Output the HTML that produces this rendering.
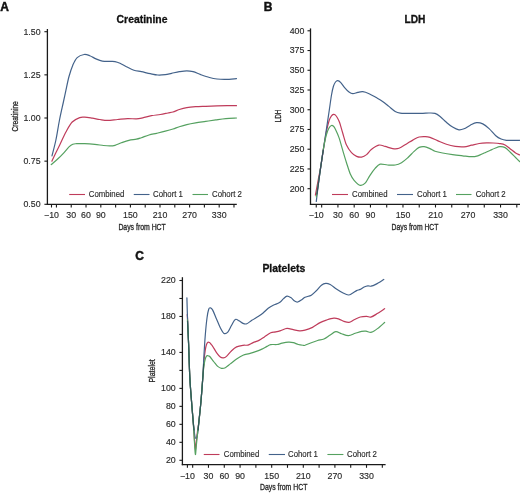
<!DOCTYPE html>
<html><head><meta charset="utf-8"><style>
html,body{margin:0;padding:0;background:#fff;}
body{width:520px;height:493px;overflow:hidden;}
svg{display:block;will-change:transform;}
text{font-family:"Liberation Sans", sans-serif;}
</style></head><body>
<svg width="520" height="493" viewBox="0 0 520 493">
<rect width="520" height="493" fill="#fff"/>
<path d="M51.90 161.20 C52.50 159.92 54.22 156.15 55.50 153.50 C56.78 150.85 57.87 148.88 59.60 145.30 C61.33 141.72 63.80 135.88 65.90 132.00 C68.00 128.12 69.90 124.40 72.20 122.00 C74.50 119.60 77.62 118.40 79.70 117.60 C81.78 116.80 82.60 117.10 84.70 117.20 C86.80 117.30 89.78 117.82 92.30 118.20 C94.82 118.58 97.28 119.13 99.80 119.50 C102.32 119.87 104.45 120.40 107.40 120.40 C110.35 120.40 114.13 119.80 117.50 119.50 C120.87 119.20 124.45 118.70 127.60 118.60 C130.75 118.50 133.88 119.02 136.40 118.90 C138.92 118.78 140.18 118.43 142.70 117.90 C145.22 117.37 148.57 116.27 151.50 115.70 C154.43 115.13 157.57 114.95 160.30 114.50 C163.03 114.05 165.78 113.42 167.90 113.00 C170.02 112.58 171.10 112.58 173.00 112.00 C174.90 111.42 177.00 110.23 179.30 109.50 C181.60 108.77 184.08 108.07 186.80 107.60 C189.52 107.13 192.45 106.92 195.60 106.70 C198.75 106.48 202.13 106.43 205.70 106.30 C209.27 106.17 213.43 106.00 217.00 105.90 C220.57 105.80 223.85 105.73 227.10 105.70 C230.35 105.67 234.93 105.70 236.50 105.70" fill="none" stroke="#bf3c5b" stroke-width="1.20" stroke-linejoin="round" stroke-linecap="round"/>
<path d="M52.00 155.80 C52.65 153.17 54.65 145.97 55.90 140.00 C57.15 134.03 58.25 126.33 59.50 120.00 C60.75 113.67 62.33 106.95 63.40 102.00 C64.47 97.05 64.97 94.55 65.90 90.30 C66.83 86.05 67.85 80.68 69.00 76.50 C70.15 72.32 71.43 68.35 72.80 65.20 C74.17 62.05 75.32 59.38 77.20 57.60 C79.08 55.82 82.00 54.82 84.10 54.50 C86.20 54.18 87.82 54.97 89.80 55.70 C91.78 56.43 93.92 58.00 96.00 58.90 C98.08 59.80 99.97 60.68 102.30 61.10 C104.63 61.52 107.88 61.32 110.00 61.40 C112.12 61.48 113.33 61.28 115.00 61.60 C116.67 61.92 118.10 62.45 120.00 63.30 C121.90 64.15 124.08 65.55 126.40 66.70 C128.72 67.85 131.40 69.37 133.90 70.20 C136.40 71.03 138.67 71.12 141.40 71.70 C144.13 72.28 147.57 73.15 150.30 73.70 C153.03 74.25 155.30 74.85 157.80 75.00 C160.30 75.15 163.00 74.88 165.30 74.60 C167.60 74.32 169.27 73.78 171.60 73.30 C173.93 72.82 176.77 72.12 179.30 71.70 C181.83 71.28 184.50 70.80 186.80 70.80 C189.10 70.80 190.78 71.07 193.10 71.70 C195.42 72.33 197.97 73.63 200.70 74.60 C203.43 75.57 206.78 76.77 209.50 77.50 C212.22 78.23 214.28 78.68 217.00 79.00 C219.72 79.32 222.55 79.47 225.80 79.40 C229.05 79.33 234.72 78.73 236.50 78.60" fill="none" stroke="#43628a" stroke-width="1.20" stroke-linejoin="round" stroke-linecap="round"/>
<path d="M51.25 164.50 C52.27 163.63 55.34 161.20 57.40 159.30 C59.46 157.40 61.67 155.17 63.60 153.10 C65.53 151.03 67.47 148.38 69.00 146.90 C70.53 145.42 71.52 144.73 72.80 144.20 C74.08 143.67 74.72 143.80 76.70 143.70 C78.68 143.60 81.68 143.50 84.70 143.60 C87.72 143.70 91.65 143.98 94.80 144.30 C97.95 144.62 101.07 145.23 103.60 145.50 C106.13 145.77 108.10 145.93 110.00 145.90 C111.90 145.87 113.12 145.82 115.00 145.30 C116.88 144.78 118.98 143.63 121.30 142.80 C123.62 141.97 126.38 140.90 128.90 140.30 C131.42 139.70 134.32 139.63 136.40 139.20 C138.48 138.77 139.30 138.40 141.40 137.70 C143.50 137.00 146.48 135.73 149.00 135.00 C151.52 134.27 153.78 133.93 156.50 133.30 C159.22 132.67 162.55 131.92 165.30 131.20 C168.05 130.48 170.67 129.75 173.00 129.00 C175.33 128.25 177.00 127.43 179.30 126.70 C181.60 125.97 184.08 125.23 186.80 124.60 C189.52 123.97 192.45 123.43 195.60 122.90 C198.75 122.37 202.33 121.90 205.70 121.40 C209.07 120.90 212.45 120.37 215.80 119.90 C219.15 119.43 222.35 118.92 225.80 118.60 C229.25 118.28 234.72 118.10 236.50 118.00" fill="none" stroke="#55a160" stroke-width="1.20" stroke-linejoin="round" stroke-linecap="round"/>
<line x1="47.40" y1="29.00" x2="47.40" y2="204.90" stroke="#1a1a1a" stroke-width="1.30"/>
<line x1="46.80" y1="204.30" x2="236.80" y2="204.30" stroke="#1a1a1a" stroke-width="1.30"/>
<line x1="44.40" y1="204.30" x2="47.40" y2="204.30" stroke="#1a1a1a" stroke-width="1.10"/>
<text x="40.60" y="207.15" font-size="8.80" text-anchor="end" font-weight="normal" fill="#2a2a2a" stroke="#2a2a2a" stroke-width="0.15">0.50</text>
<line x1="44.40" y1="161.15" x2="47.40" y2="161.15" stroke="#1a1a1a" stroke-width="1.10"/>
<text x="40.60" y="164.00" font-size="8.80" text-anchor="end" font-weight="normal" fill="#2a2a2a" stroke="#2a2a2a" stroke-width="0.15">0.75</text>
<line x1="44.40" y1="118.00" x2="47.40" y2="118.00" stroke="#1a1a1a" stroke-width="1.10"/>
<text x="40.60" y="120.85" font-size="8.80" text-anchor="end" font-weight="normal" fill="#2a2a2a" stroke="#2a2a2a" stroke-width="0.15">1.00</text>
<line x1="44.40" y1="74.85" x2="47.40" y2="74.85" stroke="#1a1a1a" stroke-width="1.10"/>
<text x="40.60" y="77.70" font-size="8.80" text-anchor="end" font-weight="normal" fill="#2a2a2a" stroke="#2a2a2a" stroke-width="0.15">1.25</text>
<line x1="44.40" y1="31.70" x2="47.40" y2="31.70" stroke="#1a1a1a" stroke-width="1.10"/>
<text x="40.60" y="34.55" font-size="8.80" text-anchor="end" font-weight="normal" fill="#2a2a2a" stroke="#2a2a2a" stroke-width="0.15">1.50</text>
<line x1="51.50" y1="204.30" x2="51.50" y2="207.50" stroke="#1a1a1a" stroke-width="1.10"/>
<line x1="56.43" y1="204.30" x2="56.43" y2="207.50" stroke="#1a1a1a" stroke-width="1.10"/>
<line x1="71.23" y1="204.30" x2="71.23" y2="207.50" stroke="#1a1a1a" stroke-width="1.10"/>
<line x1="86.02" y1="204.30" x2="86.02" y2="207.50" stroke="#1a1a1a" stroke-width="1.10"/>
<line x1="100.82" y1="204.30" x2="100.82" y2="207.50" stroke="#1a1a1a" stroke-width="1.10"/>
<line x1="115.62" y1="204.30" x2="115.62" y2="207.50" stroke="#1a1a1a" stroke-width="1.10"/>
<line x1="130.41" y1="204.30" x2="130.41" y2="207.50" stroke="#1a1a1a" stroke-width="1.10"/>
<line x1="145.21" y1="204.30" x2="145.21" y2="207.50" stroke="#1a1a1a" stroke-width="1.10"/>
<line x1="160.00" y1="204.30" x2="160.00" y2="207.50" stroke="#1a1a1a" stroke-width="1.10"/>
<line x1="174.80" y1="204.30" x2="174.80" y2="207.50" stroke="#1a1a1a" stroke-width="1.10"/>
<line x1="189.60" y1="204.30" x2="189.60" y2="207.50" stroke="#1a1a1a" stroke-width="1.10"/>
<line x1="204.39" y1="204.30" x2="204.39" y2="207.50" stroke="#1a1a1a" stroke-width="1.10"/>
<line x1="219.19" y1="204.30" x2="219.19" y2="207.50" stroke="#1a1a1a" stroke-width="1.10"/>
<line x1="233.98" y1="204.30" x2="233.98" y2="207.50" stroke="#1a1a1a" stroke-width="1.10"/>
<text x="51.50" y="218.30" font-size="8.80" text-anchor="middle" font-weight="normal" fill="#2a2a2a" stroke="#2a2a2a" stroke-width="0.15">−10</text>
<text x="71.23" y="218.30" font-size="8.80" text-anchor="middle" font-weight="normal" fill="#2a2a2a" stroke="#2a2a2a" stroke-width="0.15">30</text>
<text x="86.02" y="218.30" font-size="8.80" text-anchor="middle" font-weight="normal" fill="#2a2a2a" stroke="#2a2a2a" stroke-width="0.15">60</text>
<text x="100.82" y="218.30" font-size="8.80" text-anchor="middle" font-weight="normal" fill="#2a2a2a" stroke="#2a2a2a" stroke-width="0.15">90</text>
<text x="130.41" y="218.30" font-size="8.80" text-anchor="middle" font-weight="normal" fill="#2a2a2a" stroke="#2a2a2a" stroke-width="0.15">150</text>
<text x="160.00" y="218.30" font-size="8.80" text-anchor="middle" font-weight="normal" fill="#2a2a2a" stroke="#2a2a2a" stroke-width="0.15">210</text>
<text x="189.60" y="218.30" font-size="8.80" text-anchor="middle" font-weight="normal" fill="#2a2a2a" stroke="#2a2a2a" stroke-width="0.15">270</text>
<text x="219.19" y="218.30" font-size="8.80" text-anchor="middle" font-weight="normal" fill="#2a2a2a" stroke="#2a2a2a" stroke-width="0.15">330</text>
<text x="142.00" y="22.70" font-size="10.40" text-anchor="middle" font-weight="bold" fill="#111" stroke="#111" stroke-width="0.3">Creatinine</text>
<text x="142.10" y="229.60" font-size="8.60" text-anchor="middle" font-weight="normal" fill="#2a2a2a" stroke="#2a2a2a" stroke-width="0.32" textLength="47.4" lengthAdjust="spacingAndGlyphs">Days from HCT</text>
<text transform="translate(17.90 116.40) rotate(-90)" x="0" y="0" font-size="9.6" text-anchor="middle" fill="#2a2a2a" stroke="#2a2a2a" stroke-width="0.32" textLength="30.4" lengthAdjust="spacingAndGlyphs">Creatinine</text>
<line x1="69.20" y1="194.50" x2="85.00" y2="194.50" stroke="#bf3c5b" stroke-width="1.10"/>
<text x="88.80" y="197.45" font-size="8.50" text-anchor="start" font-weight="normal" fill="#2a2a2a" stroke="#2a2a2a" stroke-width="0.15" textLength="35.54" lengthAdjust="spacingAndGlyphs">Combined</text>
<line x1="133.75" y1="194.50" x2="149.50" y2="194.50" stroke="#43628a" stroke-width="1.10"/>
<text x="153.00" y="197.45" font-size="8.50" text-anchor="start" font-weight="normal" fill="#2a2a2a" stroke="#2a2a2a" stroke-width="0.15" textLength="29.91" lengthAdjust="spacingAndGlyphs">Cohort 1</text>
<line x1="192.50" y1="194.50" x2="208.00" y2="194.50" stroke="#55a160" stroke-width="1.10"/>
<text x="212.00" y="197.45" font-size="8.50" text-anchor="start" font-weight="normal" fill="#2a2a2a" stroke="#2a2a2a" stroke-width="0.15" textLength="29.91" lengthAdjust="spacingAndGlyphs">Cohort 2</text>
<text x="0.20" y="10.60" font-size="12.00" text-anchor="start" font-weight="bold" fill="#111" stroke="#111" stroke-width="0.45">A</text>
<path d="M315.40 195.10 C315.87 192.58 317.30 184.77 318.20 180.00 C319.10 175.23 319.92 171.75 320.80 166.50 C321.68 161.25 322.55 154.42 323.50 148.50 C324.45 142.58 325.53 135.75 326.50 131.00 C327.47 126.25 328.47 122.53 329.30 120.00 C330.13 117.47 330.80 116.73 331.50 115.80 C332.20 114.87 332.88 114.55 333.50 114.40 C334.12 114.25 334.58 114.38 335.20 114.90 C335.82 115.42 336.47 116.23 337.20 117.50 C337.93 118.77 338.68 119.92 339.60 122.50 C340.52 125.08 341.55 129.23 342.70 133.00 C343.85 136.77 345.03 141.82 346.50 145.10 C347.97 148.38 349.82 150.82 351.50 152.70 C353.18 154.58 354.92 155.67 356.60 156.40 C358.28 157.13 359.93 157.40 361.60 157.10 C363.27 156.80 364.98 155.87 366.60 154.60 C368.22 153.33 369.27 151.08 371.30 149.50 C373.33 147.92 376.50 145.62 378.80 145.10 C381.10 144.58 382.78 145.82 385.10 146.40 C387.42 146.98 390.38 148.28 392.70 148.60 C395.02 148.92 396.70 149.08 399.00 148.30 C401.30 147.52 404.20 145.27 406.50 143.90 C408.80 142.53 410.70 141.25 412.80 140.10 C414.90 138.95 417.00 137.58 419.10 137.00 C421.20 136.42 423.58 136.53 425.40 136.60 C427.22 136.67 427.98 136.73 430.00 137.40 C432.02 138.07 434.77 139.45 437.50 140.60 C440.23 141.75 443.45 143.33 446.40 144.30 C449.35 145.27 452.27 145.98 455.20 146.40 C458.13 146.82 461.28 147.00 464.00 146.80 C466.72 146.60 468.98 145.75 471.50 145.20 C474.02 144.65 476.58 143.88 479.10 143.50 C481.62 143.12 484.25 142.98 486.60 142.90 C488.95 142.82 491.00 142.88 493.20 143.00 C495.40 143.12 497.82 143.27 499.80 143.60 C501.78 143.93 503.35 144.12 505.10 145.00 C506.85 145.88 508.55 147.58 510.30 148.90 C512.05 150.22 514.05 151.90 515.60 152.90 C517.15 153.90 518.93 154.57 519.60 154.90" fill="none" stroke="#bf3c5b" stroke-width="1.20" stroke-linejoin="round" stroke-linecap="round"/>
<path d="M316.30 201.40 C316.65 198.50 317.68 189.60 318.40 184.00 C319.12 178.40 319.75 173.72 320.60 167.80 C321.45 161.88 322.53 154.92 323.50 148.50 C324.47 142.08 325.43 135.72 326.40 129.30 C327.37 122.88 328.45 115.72 329.30 110.00 C330.15 104.28 330.80 99.00 331.50 95.00 C332.20 91.00 332.83 88.17 333.50 86.00 C334.17 83.83 334.80 82.88 335.50 82.00 C336.20 81.12 336.82 80.60 337.70 80.70 C338.58 80.80 339.65 81.45 340.80 82.60 C341.95 83.75 343.23 86.03 344.60 87.60 C345.97 89.17 347.63 90.98 349.00 92.00 C350.37 93.02 351.33 93.63 352.80 93.70 C354.27 93.77 356.13 92.73 357.80 92.40 C359.47 92.07 360.92 91.48 362.80 91.70 C364.68 91.92 366.85 92.72 369.10 93.70 C371.35 94.68 374.05 96.32 376.30 97.60 C378.55 98.88 380.50 99.93 382.60 101.40 C384.70 102.87 386.80 104.73 388.90 106.40 C391.00 108.07 393.32 110.28 395.20 111.40 C397.08 112.52 398.12 112.78 400.20 113.10 C402.28 113.42 405.18 113.27 407.70 113.30 C410.22 113.33 412.78 113.30 415.30 113.30 C417.82 113.30 420.50 113.35 422.80 113.30 C425.10 113.25 427.07 112.98 429.10 113.00 C431.13 113.02 433.17 112.82 435.00 113.40 C436.83 113.98 438.20 115.02 440.10 116.50 C442.00 117.98 444.32 120.53 446.40 122.30 C448.48 124.07 450.52 125.85 452.60 127.10 C454.68 128.35 457.00 129.52 458.90 129.80 C460.80 130.08 462.10 129.57 464.00 128.80 C465.90 128.03 468.22 126.22 470.30 125.20 C472.38 124.18 474.42 122.92 476.50 122.70 C478.58 122.48 480.70 122.92 482.80 123.90 C484.90 124.88 486.93 126.63 489.10 128.60 C491.27 130.57 493.80 133.97 495.80 135.70 C497.80 137.43 499.33 138.23 501.10 139.00 C502.87 139.77 504.42 140.08 506.40 140.30 C508.38 140.52 510.80 140.30 513.00 140.30 C515.20 140.30 518.50 140.30 519.60 140.30" fill="none" stroke="#43628a" stroke-width="1.20" stroke-linejoin="round" stroke-linecap="round"/>
<path d="M316.30 197.00 C316.65 194.58 317.68 187.37 318.40 182.50 C319.12 177.63 319.75 173.47 320.60 167.80 C321.45 162.13 322.55 153.97 323.50 148.50 C324.45 143.03 325.38 138.42 326.30 135.00 C327.22 131.58 328.13 129.58 329.00 128.00 C329.87 126.42 330.75 125.78 331.50 125.50 C332.25 125.22 332.85 125.68 333.50 126.30 C334.15 126.92 334.48 127.32 335.40 129.20 C336.32 131.08 337.78 134.10 339.00 137.60 C340.22 141.10 341.45 146.02 342.70 150.20 C343.95 154.38 345.23 158.73 346.50 162.70 C347.77 166.67 349.03 171.07 350.30 174.00 C351.57 176.93 352.43 178.40 354.10 180.30 C355.77 182.20 358.42 184.97 360.30 185.40 C362.18 185.83 363.78 184.58 365.40 182.90 C367.02 181.22 368.38 177.72 370.00 175.30 C371.62 172.88 373.42 170.25 375.10 168.40 C376.78 166.55 378.02 164.77 380.10 164.20 C382.18 163.63 385.08 164.87 387.60 165.00 C390.12 165.13 392.88 165.38 395.20 165.00 C397.52 164.62 399.40 163.92 401.50 162.70 C403.60 161.48 405.70 159.58 407.80 157.70 C409.90 155.82 412.22 153.12 414.10 151.40 C415.98 149.68 417.43 148.20 419.10 147.40 C420.77 146.60 422.28 146.40 424.10 146.60 C425.92 146.80 428.18 147.83 430.00 148.60 C431.82 149.37 432.90 150.47 435.00 151.20 C437.10 151.93 439.67 152.43 442.60 153.00 C445.53 153.57 449.25 154.13 452.60 154.60 C455.95 155.07 459.55 155.45 462.70 155.80 C465.85 156.15 468.98 156.70 471.50 156.70 C474.02 156.70 475.70 156.42 477.80 155.80 C479.90 155.18 482.00 153.93 484.10 153.00 C486.20 152.07 488.58 150.98 490.40 150.20 C492.22 149.42 493.43 148.88 495.00 148.30 C496.57 147.72 498.12 146.82 499.80 146.70 C501.48 146.58 503.35 146.68 505.10 147.60 C506.85 148.52 508.55 150.55 510.30 152.20 C512.05 153.85 514.05 155.95 515.60 157.50 C517.15 159.05 518.93 160.83 519.60 161.50" fill="none" stroke="#55a160" stroke-width="1.20" stroke-linejoin="round" stroke-linecap="round"/>
<path d="M316.90 194.00 C317.15 192.33 317.78 188.37 318.40 184.00 C319.02 179.63 319.78 173.47 320.60 167.80 C321.42 162.13 322.85 152.97 323.30 150.00" fill="none" stroke="#3a4a5e" stroke-width="1.20" stroke-linejoin="round" stroke-linecap="round"/>
<line x1="310.50" y1="28.40" x2="310.50" y2="204.90" stroke="#1a1a1a" stroke-width="1.30"/>
<line x1="309.90" y1="204.30" x2="520.50" y2="204.30" stroke="#1a1a1a" stroke-width="1.30"/>
<line x1="307.50" y1="188.70" x2="310.50" y2="188.70" stroke="#1a1a1a" stroke-width="1.10"/>
<text x="304.40" y="191.55" font-size="8.80" text-anchor="end" font-weight="normal" fill="#2a2a2a" stroke="#2a2a2a" stroke-width="0.15">200</text>
<line x1="307.50" y1="168.96" x2="310.50" y2="168.96" stroke="#1a1a1a" stroke-width="1.10"/>
<text x="304.40" y="171.81" font-size="8.80" text-anchor="end" font-weight="normal" fill="#2a2a2a" stroke="#2a2a2a" stroke-width="0.15">225</text>
<line x1="307.50" y1="149.22" x2="310.50" y2="149.22" stroke="#1a1a1a" stroke-width="1.10"/>
<text x="304.40" y="152.07" font-size="8.80" text-anchor="end" font-weight="normal" fill="#2a2a2a" stroke="#2a2a2a" stroke-width="0.15">250</text>
<line x1="307.50" y1="129.48" x2="310.50" y2="129.48" stroke="#1a1a1a" stroke-width="1.10"/>
<text x="304.40" y="132.33" font-size="8.80" text-anchor="end" font-weight="normal" fill="#2a2a2a" stroke="#2a2a2a" stroke-width="0.15">275</text>
<line x1="307.50" y1="109.74" x2="310.50" y2="109.74" stroke="#1a1a1a" stroke-width="1.10"/>
<text x="304.40" y="112.59" font-size="8.80" text-anchor="end" font-weight="normal" fill="#2a2a2a" stroke="#2a2a2a" stroke-width="0.15">300</text>
<line x1="307.50" y1="90.00" x2="310.50" y2="90.00" stroke="#1a1a1a" stroke-width="1.10"/>
<text x="304.40" y="92.85" font-size="8.80" text-anchor="end" font-weight="normal" fill="#2a2a2a" stroke="#2a2a2a" stroke-width="0.15">325</text>
<line x1="307.50" y1="70.26" x2="310.50" y2="70.26" stroke="#1a1a1a" stroke-width="1.10"/>
<text x="304.40" y="73.11" font-size="8.80" text-anchor="end" font-weight="normal" fill="#2a2a2a" stroke="#2a2a2a" stroke-width="0.15">350</text>
<line x1="307.50" y1="50.52" x2="310.50" y2="50.52" stroke="#1a1a1a" stroke-width="1.10"/>
<text x="304.40" y="53.37" font-size="8.80" text-anchor="end" font-weight="normal" fill="#2a2a2a" stroke="#2a2a2a" stroke-width="0.15">375</text>
<line x1="307.50" y1="30.78" x2="310.50" y2="30.78" stroke="#1a1a1a" stroke-width="1.10"/>
<text x="304.40" y="33.63" font-size="8.80" text-anchor="end" font-weight="normal" fill="#2a2a2a" stroke="#2a2a2a" stroke-width="0.15">400</text>
<line x1="316.25" y1="204.30" x2="316.25" y2="207.50" stroke="#1a1a1a" stroke-width="1.10"/>
<line x1="321.67" y1="204.30" x2="321.67" y2="207.50" stroke="#1a1a1a" stroke-width="1.10"/>
<line x1="337.93" y1="204.30" x2="337.93" y2="207.50" stroke="#1a1a1a" stroke-width="1.10"/>
<line x1="354.19" y1="204.30" x2="354.19" y2="207.50" stroke="#1a1a1a" stroke-width="1.10"/>
<line x1="370.45" y1="204.30" x2="370.45" y2="207.50" stroke="#1a1a1a" stroke-width="1.10"/>
<line x1="386.71" y1="204.30" x2="386.71" y2="207.50" stroke="#1a1a1a" stroke-width="1.10"/>
<line x1="402.97" y1="204.30" x2="402.97" y2="207.50" stroke="#1a1a1a" stroke-width="1.10"/>
<line x1="419.23" y1="204.30" x2="419.23" y2="207.50" stroke="#1a1a1a" stroke-width="1.10"/>
<line x1="435.49" y1="204.30" x2="435.49" y2="207.50" stroke="#1a1a1a" stroke-width="1.10"/>
<line x1="451.75" y1="204.30" x2="451.75" y2="207.50" stroke="#1a1a1a" stroke-width="1.10"/>
<line x1="468.01" y1="204.30" x2="468.01" y2="207.50" stroke="#1a1a1a" stroke-width="1.10"/>
<line x1="484.27" y1="204.30" x2="484.27" y2="207.50" stroke="#1a1a1a" stroke-width="1.10"/>
<line x1="500.53" y1="204.30" x2="500.53" y2="207.50" stroke="#1a1a1a" stroke-width="1.10"/>
<line x1="516.79" y1="204.30" x2="516.79" y2="207.50" stroke="#1a1a1a" stroke-width="1.10"/>
<text x="316.25" y="218.30" font-size="8.80" text-anchor="middle" font-weight="normal" fill="#2a2a2a" stroke="#2a2a2a" stroke-width="0.15">−10</text>
<text x="337.93" y="218.30" font-size="8.80" text-anchor="middle" font-weight="normal" fill="#2a2a2a" stroke="#2a2a2a" stroke-width="0.15">30</text>
<text x="354.19" y="218.30" font-size="8.80" text-anchor="middle" font-weight="normal" fill="#2a2a2a" stroke="#2a2a2a" stroke-width="0.15">60</text>
<text x="370.45" y="218.30" font-size="8.80" text-anchor="middle" font-weight="normal" fill="#2a2a2a" stroke="#2a2a2a" stroke-width="0.15">90</text>
<text x="402.97" y="218.30" font-size="8.80" text-anchor="middle" font-weight="normal" fill="#2a2a2a" stroke="#2a2a2a" stroke-width="0.15">150</text>
<text x="435.49" y="218.30" font-size="8.80" text-anchor="middle" font-weight="normal" fill="#2a2a2a" stroke="#2a2a2a" stroke-width="0.15">210</text>
<text x="468.01" y="218.30" font-size="8.80" text-anchor="middle" font-weight="normal" fill="#2a2a2a" stroke="#2a2a2a" stroke-width="0.15">270</text>
<text x="500.53" y="218.30" font-size="8.80" text-anchor="middle" font-weight="normal" fill="#2a2a2a" stroke="#2a2a2a" stroke-width="0.15">330</text>
<text x="415.00" y="22.90" font-size="10.20" text-anchor="middle" font-weight="bold" fill="#111" stroke="#111" stroke-width="0.3">LDH</text>
<text x="415.00" y="229.60" font-size="8.60" text-anchor="middle" font-weight="normal" fill="#2a2a2a" stroke="#2a2a2a" stroke-width="0.32" textLength="46.8" lengthAdjust="spacingAndGlyphs">Days from HCT</text>
<text transform="translate(280.90 116.00) rotate(-90)" x="0" y="0" font-size="9.6" text-anchor="middle" fill="#2a2a2a" stroke="#2a2a2a" stroke-width="0.32" textLength="12.8" lengthAdjust="spacingAndGlyphs">LDH</text>
<line x1="332.00" y1="194.50" x2="348.00" y2="194.50" stroke="#bf3c5b" stroke-width="1.10"/>
<text x="352.00" y="197.45" font-size="8.50" text-anchor="start" font-weight="normal" fill="#2a2a2a" stroke="#2a2a2a" stroke-width="0.15" textLength="35.54" lengthAdjust="spacingAndGlyphs">Combined</text>
<line x1="397.00" y1="194.50" x2="413.00" y2="194.50" stroke="#43628a" stroke-width="1.10"/>
<text x="417.00" y="197.45" font-size="8.50" text-anchor="start" font-weight="normal" fill="#2a2a2a" stroke="#2a2a2a" stroke-width="0.15" textLength="29.91" lengthAdjust="spacingAndGlyphs">Cohort 1</text>
<line x1="456.00" y1="194.50" x2="471.50" y2="194.50" stroke="#55a160" stroke-width="1.10"/>
<text x="475.70" y="197.45" font-size="8.50" text-anchor="start" font-weight="normal" fill="#2a2a2a" stroke="#2a2a2a" stroke-width="0.15" textLength="29.91" lengthAdjust="spacingAndGlyphs">Cohort 2</text>
<text x="263.80" y="10.70" font-size="12.00" text-anchor="start" font-weight="bold" fill="#111" stroke="#111" stroke-width="0.45">B</text>
<path d="M187.20 314.50 C187.27 315.42 187.37 315.08 187.60 320.00 C187.83 324.92 188.23 334.50 188.60 344.00 C188.97 353.50 189.32 367.50 189.80 377.00 C190.28 386.50 190.93 393.57 191.50 401.00 C192.07 408.43 192.70 415.10 193.20 421.60 C193.70 428.10 194.13 435.35 194.50 440.00 C194.87 444.65 195.10 449.17 195.40 449.50 C195.70 449.83 195.97 444.92 196.30 442.00 C196.63 439.08 196.97 435.40 197.40 432.00 C197.83 428.60 198.30 426.77 198.90 421.60 C199.50 416.43 200.32 408.77 201.00 401.00 C201.68 393.23 202.48 381.83 203.00 375.00 C203.52 368.17 203.72 364.17 204.10 360.00 C204.48 355.83 204.90 352.58 205.30 350.00 C205.70 347.42 206.07 345.80 206.50 344.50 C206.93 343.20 207.40 342.52 207.90 342.20 C208.40 341.88 208.98 342.27 209.50 342.60 C210.02 342.93 210.47 343.58 211.00 344.20 C211.53 344.82 211.78 344.90 212.70 346.30 C213.62 347.70 215.23 350.82 216.50 352.60 C217.77 354.38 219.15 356.12 220.30 357.00 C221.45 357.88 222.37 358.00 223.40 357.90 C224.43 357.80 225.13 357.60 226.50 356.40 C227.87 355.20 229.92 352.28 231.60 350.70 C233.28 349.12 234.70 347.80 236.60 346.90 C238.50 346.00 241.10 345.60 243.00 345.30 C244.90 345.00 246.32 345.55 248.00 345.10 C249.68 344.65 251.20 343.43 253.10 342.60 C255.00 341.77 257.52 341.05 259.40 340.10 C261.28 339.15 262.52 338.12 264.40 336.90 C266.28 335.68 268.82 333.63 270.70 332.80 C272.58 331.97 274.03 332.27 275.70 331.90 C277.37 331.53 278.82 331.18 280.70 330.60 C282.58 330.02 284.90 328.55 287.00 328.40 C289.10 328.25 291.20 329.28 293.30 329.70 C295.40 330.12 297.65 330.82 299.60 330.90 C301.55 330.98 302.85 330.78 305.00 330.20 C307.15 329.62 309.98 328.67 312.50 327.40 C315.02 326.13 317.78 323.82 320.10 322.60 C322.42 321.38 324.10 320.83 326.40 320.10 C328.70 319.37 331.80 318.37 333.90 318.20 C336.00 318.03 337.32 318.57 339.00 319.10 C340.68 319.63 342.33 320.85 344.00 321.40 C345.67 321.95 347.32 322.67 349.00 322.40 C350.68 322.13 352.22 320.70 354.10 319.80 C355.98 318.90 358.22 317.58 360.30 317.00 C362.38 316.42 364.85 316.28 366.60 316.30 C368.35 316.32 369.02 317.55 370.80 317.10 C372.58 316.65 375.00 315.00 377.30 313.60 C379.60 312.20 383.38 309.52 384.60 308.70" fill="none" stroke="#bf3c5b" stroke-width="1.20" stroke-linejoin="round" stroke-linecap="round"/>
<path d="M186.90 297.80 C187.00 301.17 187.22 310.30 187.50 318.00 C187.78 325.70 188.22 334.17 188.60 344.00 C188.98 353.83 189.32 367.50 189.80 377.00 C190.28 386.50 190.93 393.57 191.50 401.00 C192.07 408.43 192.65 415.85 193.20 421.60 C193.75 427.35 194.32 432.68 194.80 435.50 C195.28 438.32 195.68 438.50 196.10 438.50 C196.52 438.50 196.83 438.32 197.30 435.50 C197.77 432.68 198.28 427.35 198.90 421.60 C199.52 415.85 200.32 408.77 201.00 401.00 C201.68 393.23 202.53 382.17 203.00 375.00 C203.47 367.83 203.42 364.67 203.80 358.00 C204.18 351.33 204.77 341.67 205.30 335.00 C205.83 328.33 206.43 322.30 207.00 318.00 C207.57 313.70 208.13 310.90 208.70 309.20 C209.27 307.50 209.73 307.65 210.40 307.80 C211.07 307.95 211.68 308.25 212.70 310.10 C213.72 311.95 215.23 315.97 216.50 318.90 C217.77 321.83 219.05 325.28 220.30 327.70 C221.55 330.12 222.75 332.67 224.00 333.40 C225.25 334.13 226.53 333.47 227.80 332.10 C229.07 330.73 230.35 327.32 231.60 325.20 C232.85 323.08 234.05 320.13 235.30 319.40 C236.55 318.67 237.82 320.13 239.10 320.80 C240.38 321.47 241.72 322.90 243.00 323.40 C244.28 323.90 245.33 324.32 246.80 323.80 C248.27 323.28 249.92 321.52 251.80 320.30 C253.68 319.08 256.22 317.72 258.10 316.50 C259.98 315.28 261.42 314.37 263.10 313.00 C264.78 311.63 266.52 309.60 268.20 308.30 C269.88 307.00 271.32 306.15 273.20 305.20 C275.08 304.25 277.82 303.65 279.50 302.60 C281.18 301.55 282.05 299.98 283.30 298.90 C284.55 297.82 285.75 296.32 287.00 296.10 C288.25 295.88 289.53 296.77 290.80 297.60 C292.07 298.43 293.45 300.37 294.60 301.10 C295.75 301.83 296.45 302.27 297.70 302.00 C298.95 301.73 300.88 300.28 302.10 299.50 C303.32 298.72 303.47 298.02 305.00 297.30 C306.53 296.58 309.42 296.28 311.30 295.20 C313.18 294.12 314.62 292.47 316.30 290.80 C317.98 289.13 319.82 286.45 321.40 285.20 C322.98 283.95 324.33 283.42 325.80 283.30 C327.27 283.18 328.43 283.57 330.20 284.50 C331.97 285.43 334.32 287.53 336.40 288.90 C338.48 290.27 340.70 291.68 342.70 292.70 C344.70 293.72 346.72 294.95 348.40 295.00 C350.08 295.05 351.43 293.73 352.80 293.00 C354.17 292.27 355.35 291.20 356.60 290.60 C357.85 290.00 359.05 290.00 360.30 289.40 C361.55 288.80 362.83 287.60 364.10 287.00 C365.37 286.40 366.75 285.93 367.90 285.80 C369.05 285.67 369.70 286.43 371.00 286.20 C372.30 285.97 373.57 285.52 375.70 284.40 C377.83 283.28 382.45 280.32 383.80 279.50" fill="none" stroke="#43628a" stroke-width="1.20" stroke-linejoin="round" stroke-linecap="round"/>
<path d="M187.40 319.80 C187.45 320.50 187.50 319.97 187.70 324.00 C187.90 328.03 188.25 335.17 188.60 344.00 C188.95 352.83 189.32 367.50 189.80 377.00 C190.28 386.50 190.93 393.57 191.50 401.00 C192.07 408.43 192.70 414.60 193.20 421.60 C193.70 428.60 194.13 437.52 194.50 443.00 C194.87 448.48 195.10 454.00 195.40 454.50 C195.70 455.00 195.98 449.08 196.30 446.00 C196.62 442.92 196.87 440.07 197.30 436.00 C197.73 431.93 198.28 427.43 198.90 421.60 C199.52 415.77 200.32 408.77 201.00 401.00 C201.68 393.23 202.47 381.17 203.00 375.00 C203.53 368.83 203.80 366.75 204.20 364.00 C204.60 361.25 205.02 359.80 205.40 358.50 C205.78 357.20 206.15 356.67 206.50 356.20 C206.85 355.73 207.13 355.73 207.50 355.70 C207.87 355.67 208.25 355.78 208.70 356.00 C209.15 356.22 209.32 356.00 210.20 357.00 C211.08 358.00 212.75 360.43 214.00 362.00 C215.25 363.57 216.45 365.35 217.70 366.40 C218.95 367.45 220.23 368.08 221.50 368.30 C222.77 368.52 223.83 368.43 225.30 367.70 C226.77 366.97 228.42 365.37 230.30 363.90 C232.18 362.43 234.48 360.35 236.60 358.90 C238.72 357.45 240.88 356.08 243.00 355.20 C245.12 354.32 247.20 354.20 249.30 353.60 C251.40 353.00 253.50 352.35 255.60 351.60 C257.70 350.85 260.02 349.97 261.90 349.10 C263.78 348.23 265.43 347.15 266.90 346.40 C268.37 345.65 269.02 344.92 270.70 344.60 C272.38 344.28 275.12 344.73 277.00 344.50 C278.88 344.27 280.12 343.58 282.00 343.20 C283.88 342.82 286.42 342.30 288.30 342.20 C290.18 342.10 291.63 342.22 293.30 342.60 C294.97 342.98 296.62 344.05 298.30 344.50 C299.98 344.95 302.28 345.17 303.40 345.30 C304.52 345.43 303.68 345.73 305.00 345.30 C306.32 344.87 309.20 343.50 311.30 342.70 C313.40 341.90 315.50 341.12 317.60 340.50 C319.70 339.88 321.80 339.92 323.90 339.00 C326.00 338.08 328.22 336.22 330.20 335.00 C332.18 333.78 333.92 331.92 335.80 331.70 C337.68 331.48 339.40 333.05 341.50 333.70 C343.60 334.35 346.10 335.67 348.40 335.60 C350.70 335.53 353.10 334.00 355.30 333.30 C357.50 332.60 359.82 331.75 361.60 331.40 C363.38 331.05 364.32 331.07 366.00 331.20 C367.68 331.33 369.53 332.83 371.70 332.20 C373.87 331.57 376.85 329.02 379.00 327.40 C381.15 325.78 383.67 323.32 384.60 322.50" fill="none" stroke="#55a160" stroke-width="1.20" stroke-linejoin="round" stroke-linecap="round"/>
<path d="M187.50 321.00 C187.68 324.83 188.22 334.67 188.60 344.00 C188.98 353.33 189.32 367.50 189.80 377.00 C190.28 386.50 190.93 393.57 191.50 401.00 C192.07 408.43 192.78 416.77 193.20 421.60 C193.62 426.43 193.87 428.60 194.00 430.00" fill="none" stroke="#2e5a58" stroke-width="1.20" stroke-linejoin="round" stroke-linecap="round"/>
<path d="M198.20 430.00 C198.32 428.60 198.43 426.43 198.90 421.60 C199.37 416.77 200.32 408.77 201.00 401.00 C201.68 393.23 202.57 381.17 203.00 375.00 C203.43 368.83 203.50 365.83 203.60 364.00" fill="none" stroke="#2e5a58" stroke-width="1.20" stroke-linejoin="round" stroke-linecap="round"/>
<line x1="182.40" y1="277.20" x2="182.40" y2="465.20" stroke="#1a1a1a" stroke-width="1.30"/>
<line x1="181.80" y1="464.60" x2="385.60" y2="464.60" stroke="#1a1a1a" stroke-width="1.30"/>
<line x1="179.40" y1="460.30" x2="182.40" y2="460.30" stroke="#1a1a1a" stroke-width="1.10"/>
<text x="175.70" y="463.15" font-size="8.80" text-anchor="end" font-weight="normal" fill="#2a2a2a" stroke="#2a2a2a" stroke-width="0.15">20</text>
<line x1="179.40" y1="442.32" x2="182.40" y2="442.32" stroke="#1a1a1a" stroke-width="1.10"/>
<text x="175.70" y="445.17" font-size="8.80" text-anchor="end" font-weight="normal" fill="#2a2a2a" stroke="#2a2a2a" stroke-width="0.15">40</text>
<line x1="179.40" y1="424.34" x2="182.40" y2="424.34" stroke="#1a1a1a" stroke-width="1.10"/>
<text x="175.70" y="427.19" font-size="8.80" text-anchor="end" font-weight="normal" fill="#2a2a2a" stroke="#2a2a2a" stroke-width="0.15">60</text>
<line x1="179.40" y1="406.36" x2="182.40" y2="406.36" stroke="#1a1a1a" stroke-width="1.10"/>
<text x="175.70" y="409.21" font-size="8.80" text-anchor="end" font-weight="normal" fill="#2a2a2a" stroke="#2a2a2a" stroke-width="0.15">80</text>
<line x1="179.40" y1="388.38" x2="182.40" y2="388.38" stroke="#1a1a1a" stroke-width="1.10"/>
<text x="175.70" y="391.23" font-size="8.80" text-anchor="end" font-weight="normal" fill="#2a2a2a" stroke="#2a2a2a" stroke-width="0.15">100</text>
<line x1="179.40" y1="370.40" x2="182.40" y2="370.40" stroke="#1a1a1a" stroke-width="1.10"/>
<line x1="179.40" y1="352.42" x2="182.40" y2="352.42" stroke="#1a1a1a" stroke-width="1.10"/>
<text x="175.70" y="355.27" font-size="8.80" text-anchor="end" font-weight="normal" fill="#2a2a2a" stroke="#2a2a2a" stroke-width="0.15">140</text>
<line x1="179.40" y1="334.44" x2="182.40" y2="334.44" stroke="#1a1a1a" stroke-width="1.10"/>
<line x1="179.40" y1="316.46" x2="182.40" y2="316.46" stroke="#1a1a1a" stroke-width="1.10"/>
<text x="175.70" y="319.31" font-size="8.80" text-anchor="end" font-weight="normal" fill="#2a2a2a" stroke="#2a2a2a" stroke-width="0.15">180</text>
<line x1="179.40" y1="298.48" x2="182.40" y2="298.48" stroke="#1a1a1a" stroke-width="1.10"/>
<line x1="179.40" y1="280.50" x2="182.40" y2="280.50" stroke="#1a1a1a" stroke-width="1.10"/>
<text x="175.70" y="283.35" font-size="8.80" text-anchor="end" font-weight="normal" fill="#2a2a2a" stroke="#2a2a2a" stroke-width="0.15">220</text>
<line x1="187.40" y1="464.60" x2="187.40" y2="467.80" stroke="#1a1a1a" stroke-width="1.10"/>
<line x1="192.67" y1="464.60" x2="192.67" y2="467.80" stroke="#1a1a1a" stroke-width="1.10"/>
<line x1="208.47" y1="464.60" x2="208.47" y2="467.80" stroke="#1a1a1a" stroke-width="1.10"/>
<line x1="224.28" y1="464.60" x2="224.28" y2="467.80" stroke="#1a1a1a" stroke-width="1.10"/>
<line x1="240.08" y1="464.60" x2="240.08" y2="467.80" stroke="#1a1a1a" stroke-width="1.10"/>
<line x1="255.88" y1="464.60" x2="255.88" y2="467.80" stroke="#1a1a1a" stroke-width="1.10"/>
<line x1="271.69" y1="464.60" x2="271.69" y2="467.80" stroke="#1a1a1a" stroke-width="1.10"/>
<line x1="287.49" y1="464.60" x2="287.49" y2="467.80" stroke="#1a1a1a" stroke-width="1.10"/>
<line x1="303.30" y1="464.60" x2="303.30" y2="467.80" stroke="#1a1a1a" stroke-width="1.10"/>
<line x1="319.10" y1="464.60" x2="319.10" y2="467.80" stroke="#1a1a1a" stroke-width="1.10"/>
<line x1="334.90" y1="464.60" x2="334.90" y2="467.80" stroke="#1a1a1a" stroke-width="1.10"/>
<line x1="350.71" y1="464.60" x2="350.71" y2="467.80" stroke="#1a1a1a" stroke-width="1.10"/>
<line x1="366.51" y1="464.60" x2="366.51" y2="467.80" stroke="#1a1a1a" stroke-width="1.10"/>
<line x1="382.32" y1="464.60" x2="382.32" y2="467.80" stroke="#1a1a1a" stroke-width="1.10"/>
<text x="187.40" y="479.10" font-size="8.80" text-anchor="middle" font-weight="normal" fill="#2a2a2a" stroke="#2a2a2a" stroke-width="0.15">−10</text>
<text x="208.47" y="479.10" font-size="8.80" text-anchor="middle" font-weight="normal" fill="#2a2a2a" stroke="#2a2a2a" stroke-width="0.15">30</text>
<text x="224.28" y="479.10" font-size="8.80" text-anchor="middle" font-weight="normal" fill="#2a2a2a" stroke="#2a2a2a" stroke-width="0.15">60</text>
<text x="240.08" y="479.10" font-size="8.80" text-anchor="middle" font-weight="normal" fill="#2a2a2a" stroke="#2a2a2a" stroke-width="0.15">90</text>
<text x="271.69" y="479.10" font-size="8.80" text-anchor="middle" font-weight="normal" fill="#2a2a2a" stroke="#2a2a2a" stroke-width="0.15">150</text>
<text x="303.30" y="479.10" font-size="8.80" text-anchor="middle" font-weight="normal" fill="#2a2a2a" stroke="#2a2a2a" stroke-width="0.15">210</text>
<text x="334.90" y="479.10" font-size="8.80" text-anchor="middle" font-weight="normal" fill="#2a2a2a" stroke="#2a2a2a" stroke-width="0.15">270</text>
<text x="366.51" y="479.10" font-size="8.80" text-anchor="middle" font-weight="normal" fill="#2a2a2a" stroke="#2a2a2a" stroke-width="0.15">330</text>
<text x="283.80" y="271.60" font-size="10.40" text-anchor="middle" font-weight="bold" fill="#111" stroke="#111" stroke-width="0.3">Platelets</text>
<text x="283.70" y="490.00" font-size="8.60" text-anchor="middle" font-weight="normal" fill="#2a2a2a" stroke="#2a2a2a" stroke-width="0.32" textLength="47.4" lengthAdjust="spacingAndGlyphs">Days from HCT</text>
<text transform="translate(154.80 370.90) rotate(-90)" x="0" y="0" font-size="9.6" text-anchor="middle" fill="#2a2a2a" stroke="#2a2a2a" stroke-width="0.32" textLength="23.3" lengthAdjust="spacingAndGlyphs">Platelet</text>
<line x1="203.75" y1="454.50" x2="219.50" y2="454.50" stroke="#bf3c5b" stroke-width="1.10"/>
<text x="223.75" y="457.45" font-size="8.50" text-anchor="start" font-weight="normal" fill="#2a2a2a" stroke="#2a2a2a" stroke-width="0.15" textLength="35.54" lengthAdjust="spacingAndGlyphs">Combined</text>
<line x1="268.75" y1="454.50" x2="285.00" y2="454.50" stroke="#43628a" stroke-width="1.10"/>
<text x="288.00" y="457.45" font-size="8.50" text-anchor="start" font-weight="normal" fill="#2a2a2a" stroke="#2a2a2a" stroke-width="0.15" textLength="29.91" lengthAdjust="spacingAndGlyphs">Cohort 1</text>
<line x1="327.40" y1="454.50" x2="343.40" y2="454.50" stroke="#55a160" stroke-width="1.10"/>
<text x="347.00" y="457.45" font-size="8.50" text-anchor="start" font-weight="normal" fill="#2a2a2a" stroke="#2a2a2a" stroke-width="0.15" textLength="29.91" lengthAdjust="spacingAndGlyphs">Cohort 2</text>
<text x="135.20" y="259.60" font-size="12.00" text-anchor="start" font-weight="bold" fill="#111" stroke="#111" stroke-width="0.45">C</text>
</svg>
</body></html>
